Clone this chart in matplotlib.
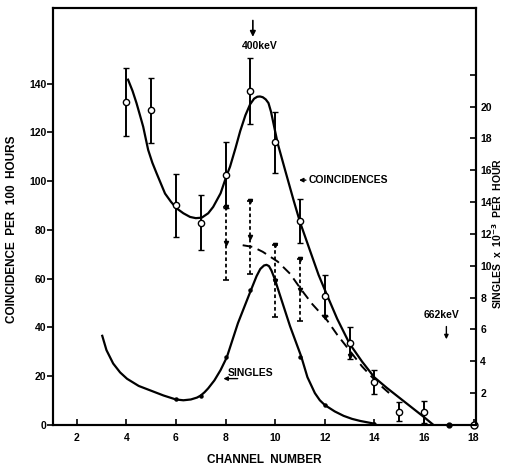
import matplotlib
matplotlib.use("Agg")
import matplotlib.pyplot as plt

plt.rcParams['font.family'] = ['Liberation Sans', 'DejaVu Sans']
plt.rcParams['font.weight'] = 'bold'

# Coincidence data (left axis)
coinc_ch = [4, 5, 6, 7, 8, 9, 10, 11, 12, 13, 14, 15, 16]
coinc_val = [132.4, 129, 90, 83, 102.5, 137, 116, 83.5, 53, 33.5, 17.7, 5.5, 5.5]
coinc_err = [14, 13.3, 12.8, 11.2, 13.4, 13.5, 12.5, 9, 8.5, 6.5, 5, 4, 4.5]
zero_ch = [17, 18]
zero_val = [0, 0]

# Smooth coincidence curve (left axis)
ccurve_x = [4.07, 4.25, 4.41, 4.55, 4.68, 4.88, 5.05, 5.22, 5.4, 5.56, 5.8, 6.03, 6.3,
            6.57, 6.8, 7.04, 7.3, 7.5, 7.8, 8.05, 8.18, 8.4, 8.59, 8.8, 8.99, 9.15,
            9.28, 9.39, 9.5, 9.62, 9.73, 9.83, 9.93, 10.1, 10.4, 10.74, 11.0, 11.4,
            11.75, 12.1, 12.5, 13.0, 13.5, 14.0, 14.5, 15.0, 15.5, 16.0, 16.38]
ccurve_y = [141.6, 137, 132, 127, 122.3, 112.8, 107.5, 103.2, 98.8, 94.9, 91.5, 88.8, 86.8,
            85.3, 84.8, 85, 86.8, 89.4, 95, 102.5, 105.9, 113.5, 120.5, 127, 131.5, 133.8,
            134.6, 134.7, 134.4, 133.5, 132, 128.5, 123.7, 115.5, 104.5, 92.2, 83.2, 71.6,
            61.5, 53, 43.5, 33.3, 26, 19.5, 15.2, 11.2, 7.2, 3.2, 0]

# Dashed curve and dashed error bars (left axis)
dcurve_x = [8.69, 9.1, 9.5, 10.1, 10.6, 11.05, 11.5, 12.1, 12.5, 13.0, 13.5, 14.1, 14.6]
dcurve_y = [73.7, 73, 71, 67, 62, 55.5, 49.5, 42.8, 37, 30.5, 24, 17.5, 13]
dbar_ch = [8, 9, 10, 11]
dbar_val = [74.5, 77, 59, 55.4]
dbar_err = [15, 15, 14.6, 12.6]
dmark_ch = [12, 13]
dmark_val = [44.4, 28.4]

# Singles curve (right axis, x10^-3 per hour)
scurve_x = [3.03, 3.2, 3.47, 3.75, 4.03, 4.5, 5.0, 5.5, 6.0, 6.3, 6.6, 6.85, 7.0, 7.15,
            7.3, 7.55, 7.8, 8.05, 8.5, 9.03, 9.25, 9.4, 9.55, 9.65, 9.75, 9.85, 10.0,
            10.1, 10.35, 10.6, 11.05, 11.3, 11.6, 11.8, 12.0, 12.4, 12.76, 13.1, 13.43,
            14.0]
scurve_y = [5.6, 4.7, 3.86, 3.3, 2.9, 2.45, 2.15, 1.85, 1.6, 1.55, 1.6, 1.72, 1.85, 2.05,
            2.3, 2.8, 3.45, 4.25, 6.4, 8.5, 9.35, 9.8, 10.02, 10.06, 9.98, 9.7, 9.1,
            8.6, 7.4, 6.2, 4.3, 3.0, 2.0, 1.55, 1.25, 0.85, 0.57, 0.38, 0.25,
            0.08]
sdot_ch = [6, 7, 8, 9, 10, 11, 12, 14]
sdot_val = [1.6, 1.85, 4.25, 8.5, 9.1, 4.3, 1.25, 0.08]

left_ticks = [0, 20, 40, 60, 80, 100, 120, 140]
right_ticks = [2, 4, 6, 8, 10, 12, 14, 16, 18, 20, 22]
right_labels = ['2', '4', '6', '8', '10', '12', '14', '16', '18', '20', '']
x_ticks = [2, 4, 6, 8, 10, 12, 14, 16, 18]

fig = plt.figure(figsize=(5.06, 4.68), dpi=100)
ax = fig.add_axes([0.105, 0.092, 0.836, 0.891])
ax2 = ax.twinx()

ax.set_xlim(1.05, 18.1)
ax.set_ylim(0, 171)
ax2.set_ylim(0, 26.2)

# coincidences
ax.plot(ccurve_x, ccurve_y, color='black', lw=1.6, solid_joinstyle='round')
ax.errorbar(coinc_ch, coinc_val, yerr=coinc_err, fmt='o', mfc='white', mec='black',
            ms=4.5, mew=1.0, ecolor='black', elinewidth=1.4, capsize=2.5, capthick=1.2,
            zorder=5)
ax.plot(zero_ch[:1], zero_val[:1], 'o', color='black', ms=3.5, clip_on=False, zorder=6)
ax.plot(zero_ch[1:], zero_val[1:], 'o', mfc='white', mec='black', ms=5, clip_on=False,
        zorder=6)

# dashed
ax.plot(dcurve_x, dcurve_y, color='black', lw=1.4, ls=(0, (5, 3)))
eb = ax.errorbar(dbar_ch, dbar_val, yerr=dbar_err, fmt='v', color='black', ms=3,
                 ecolor='black', elinewidth=1.3, capsize=2, capthick=1.2)
for c in eb[2]:
    c.set_linestyle((0, (2, 1.5)))
ax.plot(dbar_ch, [v + e for v, e in zip(dbar_val, dbar_err)], 'v', color='black', ms=3)
ax.plot(dmark_ch, dmark_val, 'v', color='black', ms=3)

# singles
ax2.plot(scurve_x, scurve_y, color='black', lw=1.6, solid_joinstyle='round')
ax2.plot(sdot_ch, sdot_val, 'o', color='black', ms=2.2)

# annotations
ax.annotate('', xy=(9.1, 158), xytext=(9.1, 167),
            arrowprops=dict(arrowstyle='-|>', color='black', lw=1.2, mutation_scale=8))
ax.text(8.65, 155.5, '400keV', fontsize=7.5, fontweight='bold', va='center', ha='left')

ax.annotate('', xy=(10.85, 100.4), xytext=(11.35, 100.4),
            arrowprops=dict(arrowstyle='-|>', color='black', lw=1.0, mutation_scale=6))
ax.text(11.35, 100.4, 'COINCIDENCES', fontsize=7.5, fontweight='bold', va='center',
        ha='left')

ax.annotate('', xy=(7.8, 19), xytext=(8.6, 19),
            arrowprops=dict(arrowstyle='-|>', color='black', lw=1.0, mutation_scale=6))
ax.text(8.1, 21.5, 'SINGLES', fontsize=7.5, fontweight='bold', va='center', ha='left')

ax.text(16.7, 45, '662keV', fontsize=7.5, fontweight='bold', va='center', ha='center')
ax.annotate('', xy=(16.9, 34), xytext=(16.9, 41.5),
            arrowprops=dict(arrowstyle='-|>', color='black', lw=1.0, mutation_scale=6))

# axes styling
ax.set_xticks(x_ticks)
ax.set_yticks(left_ticks)
ax.tick_params(axis='x', direction='in', length=4, width=1.2, labelsize=7.5, pad=6)
ax.tick_params(axis='y', direction='out', length=4, width=1.2, labelsize=7.5, pad=1)
ax2.set_yticks(right_ticks)
ax2.set_yticklabels(right_labels)
ax2.tick_params(axis='y', direction='in', length=4, width=1.2, labelsize=7.5, pad=3)
for a in (ax, ax2):
    for s in a.spines.values():
        s.set_linewidth(1.5)
    for lab in a.get_xticklabels() + a.get_yticklabels():
        lab.set_fontweight('bold')

ax.set_xlabel('CHANNEL  NUMBER', fontsize=8.5, fontweight='bold', labelpad=8)
ax.set_ylabel('COINCIDENCE  PER  100  HOURS', fontsize=8.5, fontweight='bold')
ax.yaxis.set_label_coords(-0.082, 0.47)
ax2.set_ylabel('SINGLES  x  10$^{-3}$  PER  HOUR', fontsize=7.5, fontweight='bold')
ax2.yaxis.set_label_coords(1.034, 0.46)

fig.savefig('out.png', dpi=100)
